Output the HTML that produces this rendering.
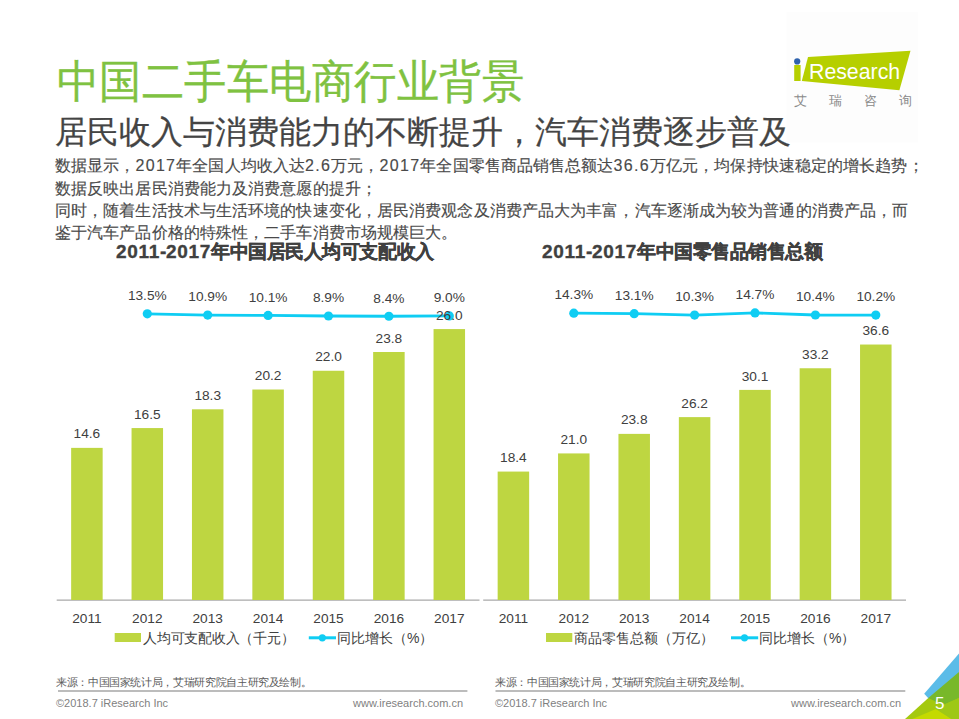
<!DOCTYPE html>
<html><head><meta charset="utf-8">
<style>
*{margin:0;padding:0;box-sizing:border-box}
html,body{width:959px;height:719px;overflow:hidden;background:#fff}
body{position:relative;font-family:"Liberation Sans",sans-serif;color:#404040}
.a{position:absolute;white-space:nowrap}
#title{left:57px;top:53.2px;font-size:42px;letter-spacing:0.48px;color:#7fc241;line-height:60px;transform:scaleY(1.065);transform-origin:0 48px;-webkit-text-stroke:0.35px #7fc241}
#sub{left:55.3px;top:110px;font-size:32px;color:#444;line-height:44px;-webkit-text-stroke:0.25px #444}
.p{left:55px;font-size:16px;letter-spacing:0.1px;color:#4a4a4a;line-height:23px;-webkit-text-stroke:0.15px #4a4a4a}
.p .d{letter-spacing:1.3px}
.ct{font-size:19px;letter-spacing:-0.45px;-webkit-text-stroke:0.35px #404040;font-weight:bold;color:#404040;line-height:24px}
.ct .d{letter-spacing:0.7px}
.lb{font-family:"Liberation Sans",sans-serif;font-size:13.7px;fill:#404040;text-anchor:middle}
.lg{font-size:14px;color:#404040;line-height:18px}
.src{font-size:10.6px;letter-spacing:-0.36px;color:#5a5a5a;line-height:14px}
.ft{font-size:11px;color:#7f7f7f;line-height:14px}
svg{position:absolute;left:0;top:0}
</style></head><body>
<svg width="959" height="719" viewBox="0 0 959 719">
<rect x="786.5" y="12" width="131.5" height="130.5" fill="#fdfdfd"/>
<line x1="56.7" y1="600.2" x2="479.5" y2="600.2" stroke="#a9a9a9" stroke-width="1.2"/>
<rect x="71.15" y="447.87" width="31.5" height="152.13" fill="#bed641"/>
<rect x="131.55" y="428.07" width="31.5" height="171.93" fill="#bed641"/>
<rect x="191.95" y="409.31" width="31.5" height="190.69" fill="#bed641"/>
<rect x="252.35" y="389.52" width="31.5" height="210.48" fill="#bed641"/>
<rect x="312.75" y="370.76" width="31.5" height="229.24" fill="#bed641"/>
<rect x="373.15" y="352.00" width="31.5" height="248.00" fill="#bed641"/>
<rect x="433.55" y="329.08" width="31.5" height="270.92" fill="#bed641"/>
<polyline points="147.30,313.85 207.70,315.08 268.10,315.45 328.50,316.02 388.90,316.25 449.30,315.97" fill="none" stroke="#0fcdf3" stroke-width="2.8"/>
<circle cx="147.30" cy="313.85" r="4.6" fill="#0fcdf3"/>
<circle cx="207.70" cy="315.08" r="4.6" fill="#0fcdf3"/>
<circle cx="268.10" cy="315.45" r="4.6" fill="#0fcdf3"/>
<circle cx="328.50" cy="316.02" r="4.6" fill="#0fcdf3"/>
<circle cx="388.90" cy="316.25" r="4.6" fill="#0fcdf3"/>
<circle cx="449.30" cy="315.97" r="4.6" fill="#0fcdf3"/>
<text x="86.90" y="438.47" class="lb">14.6</text>
<text x="147.30" y="418.67" class="lb">16.5</text>
<text x="207.70" y="399.91" class="lb">18.3</text>
<text x="268.10" y="380.12" class="lb">20.2</text>
<text x="328.50" y="361.36" class="lb">22.0</text>
<text x="388.90" y="342.60" class="lb">23.8</text>
<text x="449.30" y="319.68" class="lb">26.0</text>
<text x="147.30" y="300.15" class="lb">13.5%</text>
<text x="207.70" y="301.38" class="lb">10.9%</text>
<text x="268.10" y="301.75" class="lb">10.1%</text>
<text x="328.50" y="302.32" class="lb">8.9%</text>
<text x="388.90" y="302.55" class="lb">8.4%</text>
<text x="449.30" y="302.27" class="lb">9.0%</text>
<text x="86.90" y="622.6" class="lb">2011</text>
<text x="147.30" y="622.6" class="lb">2012</text>
<text x="207.70" y="622.6" class="lb">2013</text>
<text x="268.10" y="622.6" class="lb">2014</text>
<text x="328.50" y="622.6" class="lb">2015</text>
<text x="388.90" y="622.6" class="lb">2016</text>
<text x="449.30" y="622.6" class="lb">2017</text>
<line x1="483.2" y1="600.2" x2="906" y2="600.2" stroke="#a9a9a9" stroke-width="1.2"/>
<rect x="497.65" y="471.57" width="31.5" height="128.43" fill="#bed641"/>
<rect x="558.05" y="453.42" width="31.5" height="146.58" fill="#bed641"/>
<rect x="618.45" y="433.88" width="31.5" height="166.12" fill="#bed641"/>
<rect x="678.85" y="417.12" width="31.5" height="182.88" fill="#bed641"/>
<rect x="739.25" y="389.90" width="31.5" height="210.10" fill="#bed641"/>
<rect x="799.65" y="368.26" width="31.5" height="231.74" fill="#bed641"/>
<rect x="860.05" y="344.53" width="31.5" height="255.47" fill="#bed641"/>
<polyline points="573.80,313.14 634.20,313.71 694.60,315.06 755.00,312.94 815.40,315.01 875.80,315.10" fill="none" stroke="#0fcdf3" stroke-width="2.8"/>
<circle cx="573.80" cy="313.14" r="4.6" fill="#0fcdf3"/>
<circle cx="634.20" cy="313.71" r="4.6" fill="#0fcdf3"/>
<circle cx="694.60" cy="315.06" r="4.6" fill="#0fcdf3"/>
<circle cx="755.00" cy="312.94" r="4.6" fill="#0fcdf3"/>
<circle cx="815.40" cy="315.01" r="4.6" fill="#0fcdf3"/>
<circle cx="875.80" cy="315.10" r="4.6" fill="#0fcdf3"/>
<text x="513.40" y="462.17" class="lb">18.4</text>
<text x="573.80" y="444.02" class="lb">21.0</text>
<text x="634.20" y="424.48" class="lb">23.8</text>
<text x="694.60" y="407.72" class="lb">26.2</text>
<text x="755.00" y="380.50" class="lb">30.1</text>
<text x="815.40" y="358.86" class="lb">33.2</text>
<text x="875.80" y="335.13" class="lb">36.6</text>
<text x="573.80" y="299.44" class="lb">14.3%</text>
<text x="634.20" y="300.01" class="lb">13.1%</text>
<text x="694.60" y="301.36" class="lb">10.3%</text>
<text x="755.00" y="299.24" class="lb">14.7%</text>
<text x="815.40" y="301.31" class="lb">10.4%</text>
<text x="875.80" y="301.40" class="lb">10.2%</text>
<text x="513.40" y="622.6" class="lb">2011</text>
<text x="573.80" y="622.6" class="lb">2012</text>
<text x="634.20" y="622.6" class="lb">2013</text>
<text x="694.60" y="622.6" class="lb">2014</text>
<text x="755.00" y="622.6" class="lb">2015</text>
<text x="815.40" y="622.6" class="lb">2016</text>
<text x="875.80" y="622.6" class="lb">2017</text>
<rect x="114.7" y="633" width="26.3" height="9" fill="#bed641"/>
<line x1="308.8" y1="637.8" x2="336" y2="637.8" stroke="#0fcdf3" stroke-width="3"/>
<circle cx="322.3" cy="637.8" r="3.6" fill="#0fcdf3"/>
<rect x="546" y="633" width="26.3" height="9" fill="#bed641"/>
<line x1="731" y1="637.8" x2="758.2" y2="637.8" stroke="#0fcdf3" stroke-width="3"/>
<circle cx="744.5" cy="637.8" r="3.6" fill="#0fcdf3"/>
<line x1="58" y1="691" x2="467.4" y2="691" stroke="#a6a6a6" stroke-width="1.5"/>
<line x1="495.5" y1="691" x2="905.3" y2="691" stroke="#a6a6a6" stroke-width="1.5"/>
<polygon points="794.2,65 800.6,65 800.6,81 794.2,81" fill="#b6cf00"/>
<circle cx="797.2" cy="61.4" r="3.1" fill="#2f62ad"/>
<polygon points="808,57 910.5,50.7 899.4,90.2 801.8,81" fill="#b6cf00"/>
<polygon points="905,719 928.3,697.9 959,671.9 959,719" fill="#a4c90f"/>
<polygon points="924.2,693.8 959,653.5 959,672.4 928.6,698.4" fill="#5bbce8"/>
<polygon points="928.3,697.9 959,671.9 959,697.9 943,705" fill="#78b82a"/>
<polygon points="912.3,719 936,709 951.5,719" fill="#c4da00"/>
<polygon points="936,709 943,705 959,697.9 959,719 951.5,719" fill="#9ec816"/>
</svg>
<div class="a" id="title">中国二手车电商行业背景</div>
<div class="a" id="sub">居民收入与消费能力的不断提升，汽车消费逐步普及</div>
<div class="a p" style="top:154px">数据显示，<span class="d">2017</span>年全国人均收入达<span class="d">2.6</span>万元，<span class="d">2017</span>年全国零售商品销售总额达<span class="d">36.6</span>万亿元，均保持快速稳定的增长趋势；</div>
<div class="a p" style="top:176.8px">数据反映出居民消费能力及消费意愿的提升；</div>
<div class="a p" style="top:199.4px">同时，随着生活技术与生活环境的快速变化，居民消费观念及消费产品大为丰富，汽车逐渐成为较为普通的消费产品，而</div>
<div class="a p" style="top:221.4px">鉴于汽车产品价格的特殊性，二手车消费市场规模巨大。</div>
<div class="a ct" style="left:116px;top:240px"><span class="d">2011</span>-<span class="d">2017</span>年中国居民人均可支配收入</div>
<div class="a ct" style="left:542px;top:240px"><span class="d">2011</span>-<span class="d">2017</span>年中国零售品销售总额</div>
<div class="a lg" style="left:143px;top:629px;letter-spacing:-0.25px">人均可支配收入（千元）</div>
<div class="a lg" style="left:337px;top:629px">同比增长（%）</div>
<div class="a lg" style="left:574px;top:629px">商品零售总额（万亿）</div>
<div class="a lg" style="left:759px;top:629px">同比增长（%）</div>
<div class="a src" style="left:56px;top:675px">来源：中国国家统计局，艾瑞研究院自主研究及绘制。</div>
<div class="a src" style="left:495px;top:675px">来源：中国国家统计局，艾瑞研究院自主研究及绘制。</div>
<div class="a ft" style="left:56px;top:696px">©2018.7 iResearch Inc</div>
<div class="a ft" style="left:353px;top:696px">www.iresearch.com.cn</div>
<div class="a ft" style="left:495px;top:696px">©2018.7 iResearch Inc</div>
<div class="a ft" style="left:791px;top:696px">www.iresearch.com.cn</div>
<div class="a" style="left:809px;top:60px;font-size:21.3px;color:#fff;line-height:25px">Research</div>
<div class="a" style="left:794px;top:93px;font-size:13px;color:#8a8a8a;letter-spacing:22px;line-height:16px">艾瑞咨询</div>
<div class="a" style="left:935px;top:694px;font-size:17px;color:#fff;line-height:20px">5</div>
</body></html>
